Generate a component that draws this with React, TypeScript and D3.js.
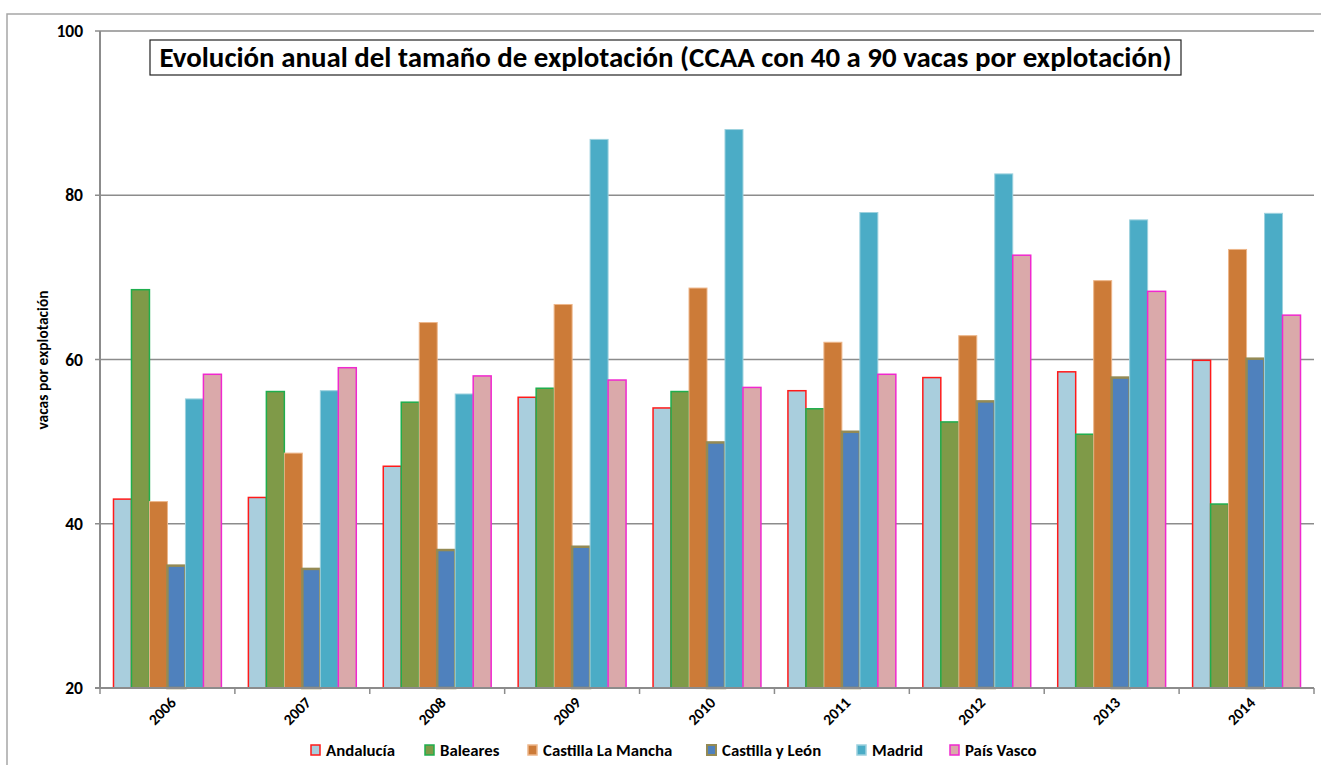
import React from "react";
import * as d3 from "d3";

const years = ["2006", "2007", "2008", "2009", "2010", "2011", "2012", "2013", "2014"];
const seriesNames = ["Andalucía", "Baleares", "Castilla La Mancha", "Castilla y León", "Madrid", "País Vasco"];
const andalucia = [43.0, 43.2, 47.0, 55.4, 54.1, 56.2, 57.8, 58.5, 59.9];
const baleares = [68.5, 56.1, 54.8, 56.5, 56.1, 54.0, 52.4, 50.9, 42.4];
const castillaLaMancha = [42.7, 48.6, 64.5, 66.7, 68.7, 62.1, 62.9, 69.6, 73.4];
const castillaYLeon = [34.9, 34.5, 36.8, 37.2, 49.9, 51.2, 54.9, 57.8, 60.1];
const madrid = [55.2, 56.2, 55.8, 86.8, 88.0, 77.9, 82.6, 77.0, 77.8];
const paisVasco = [58.2, 59.0, 58.0, 57.5, 56.6, 58.2, 72.7, 68.3, 65.4];
const yTicks = [20, 40, 60, 80, 100];

const seriesValues = [andalucia, baleares, castillaLaMancha, castillaYLeon, madrid, paisVasco];
const fills = ["#A9CEDD", "#7F9A48", "#CC7B38", "#4F81BD", "#4BACC6", "#DAA9AA"];
const strokes = ["#FF1A1A", "#1FAE4E", "#EDB68A", "#948A54", "#9CD1DE", "#F028CF"];
const strokeWidths = [1.5, 1.5, 1, 2.5, 1, 1.5];

const FONT = "Carlito, Lato, 'Open Sans', sans-serif";

export default function App() {
  const W = 1321;
  const H = 765;
  const left = 100;
  const right = 1314;
  const top = 31;
  const bottom = 688;

  const x = d3.scaleBand<string>().domain(years).range([left, right]).paddingInner(0).paddingOuter(0);
  const xs = d3
    .scaleBand<string>()
    .domain(seriesNames)
    .range([0, x.bandwidth()])
    .paddingInner(0)
    .paddingOuter(0.75);
  const y = d3.scaleLinear().domain([20, 100]).range([bottom, top]);

  const legendX = [311, 425, 528, 707, 857, 950];

  return (
    <svg
      width={W}
      height={H}
      style={{ position: "absolute", left: 0, top: 0, background: "#fff" }}
      fontFamily={FONT}
    >
      <rect x={7} y={14} width={1400} height={900} fill="#fff" stroke="#a6a6a6" strokeWidth={1.5} />

      {/* gridlines */}
      {yTicks.slice(1).map((t) => (
        <line key={"g" + t} x1={left - 5} x2={right} y1={y(t)} y2={y(t)} stroke="#8c8c8c" strokeWidth={1.5} />
      ))}
      {/* y tick labels */}
      {yTicks.map((t) => (
        <text key={"yt" + t} x={83} y={y(t)} dy="0.35em" textAnchor="end" fontSize={17.5} fontWeight="bold" fill="#000">
          {t}
        </text>
      ))}

      {/* bars */}
      {years.map((yr, i) => (
        <g key={yr}>
          {seriesNames.map((s, j) => {
            const v = seriesValues[j][i];
            const bx = (x(yr) as number) + (xs(s) as number);
            return (
              <rect
                key={s}
                x={bx}
                y={y(v)}
                width={xs.bandwidth()}
                height={bottom - y(v)}
                fill={fills[j]}
                stroke={strokes[j]}
                strokeWidth={strokeWidths[j]}
              />
            );
          })}
        </g>
      ))}

      {/* axes */}
      <line x1={left} x2={left} y1={top} y2={bottom} stroke="#8c8c8c" strokeWidth={2} />
      <line x1={left - 5} x2={left} y1={bottom} y2={bottom} stroke="#8c8c8c" strokeWidth={2} />
      <line x1={left} x2={right} y1={bottom} y2={bottom} stroke="#8c8c8c" strokeWidth={2} />
      {years.map((yr) => (
        <line key={"xt" + yr} x1={x(yr) as number} x2={x(yr) as number} y1={bottom} y2={bottom + 6} stroke="#8c8c8c" strokeWidth={1.5} />
      ))}
      <line x1={right} x2={right} y1={bottom} y2={bottom + 6} stroke="#8c8c8c" strokeWidth={1.5} />

      {/* x labels */}
      {years.map((yr) => {
        const cx = (x(yr) as number) + x.bandwidth() / 2 + 2;
        const cy = bottom + 8;
        return (
          <text
            key={"xl" + yr}
            x={cx}
            y={cy}
            textAnchor="end"
            dy="0.7em"
            fontSize={15.5}
            fontWeight="bold"
            transform={`rotate(-45, ${cx}, ${cy})`}
          >
            {yr}
          </text>
        );
      })}

      {/* y title */}
      <text
        x={0}
        y={0}
        transform={`translate(48, 360) rotate(-90)`}
        textAnchor="middle"
        fontSize={15.5}
        fontWeight="bold"
      >
        vacas por explotación
      </text>

      {/* title */}
      <rect x={150} y={40} width={1031} height={35} fill="#fff" stroke="#222" strokeWidth={1.2} />
      <text x={665.5} y={67} textAnchor="middle" fontSize={28.9} fontWeight="bold" fill="#000">
        Evolución anual del tamaño de explotación (CCAA con 40 a 90 vacas por explotación)
      </text>

      {/* legend */}
      {seriesNames.map((s, j) => (
        <g key={"lg" + s}>
          <rect x={legendX[j]} y={745} width={9} height={10} fill={fills[j]} stroke={strokes[j]} strokeWidth={strokeWidths[j] > 2 ? 2 : 1.5} />
          <text x={legendX[j] + 15} y={750} dy="0.35em" fontSize={16.8} fontWeight="bold">
            {s}
          </text>
        </g>
      ))}
    </svg>
  );
}
